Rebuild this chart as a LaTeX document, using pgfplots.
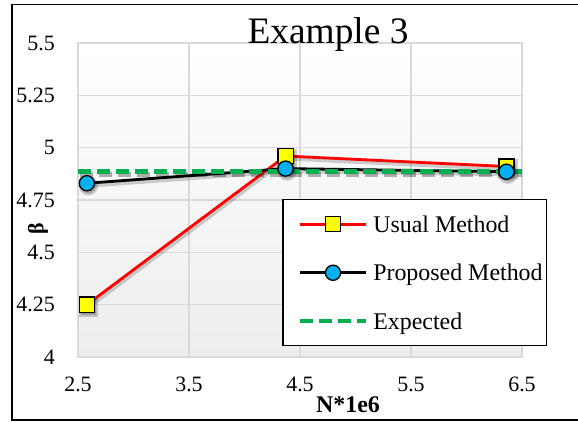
\documentclass[border=0pt]{standalone}
\usepackage{pgfplots}
\pgfplotsset{compat=1.18}
\usepackage{fontspec}
\setmainfont{Liberation Serif}
\definecolor{ured}{HTML}{FF0000}
\definecolor{myyellow}{HTML}{FFFF00}
\definecolor{mycyan}{HTML}{00B0F0}
\definecolor{mygreen}{HTML}{00B050}
\definecolor{gridc}{HTML}{D9D9D9}
\definecolor{bgbot}{HTML}{EDEDED}
\pgfplotsset{shadowplot/.style={forget plot, draw=black, opacity=0.18, line width=4bp, xshift=1.5bp, yshift=-2.5bp}}
\begin{document}
\begin{tikzpicture}[x=1bp,y=1bp]
\useasboundingbox (0,0) rectangle (578,421);
\fill[white] (0,0) rectangle (578,421);
\draw[line width=1.5bp] (12,0.8) rectangle (600,416.3);
\begin{axis}[
  at={(78bp,64bp)}, anchor=south west,
  scale only axis, width=444bp, height=314bp,
  xmin=2.5, xmax=6.5, ymin=4, ymax=5.5,
  xtick={2.5,3.5,4.5,5.5,6.5},
  xticklabels={\textrm{2.5},\textrm{3.5},\textrm{4.5},\textrm{5.5},\textrm{6.5}},
  ytick={4,4.25,4.5,4.75,5,5.25,5.5},
  yticklabels={\textrm{4},\textrm{4.25},\textrm{4.5},\textrm{4.75},\textrm{5},\textrm{5.25},\textrm{5.5}},
  /pgf/number format/assume math mode=true,
  axis background/.style={top color=white, bottom color=bgbot},
  axis line style={gridc, line width=1.5bp},
  grid=major, grid style={gridc, line width=1.2bp},
  tick style={draw=none}, major tick length=0pt,
  ticklabel style={font=\fontsize{22}{26}\selectfont\rmfamily},
  xticklabel style={anchor=north, inner sep=0pt, yshift=-20bp},
  yticklabel style={anchor=east, inner sep=0pt, xshift=-23bp},
  legend style={at={(axis description cs:0.4595,0.5032)}, anchor=north west,
    draw=black, line width=1.5bp, fill=white,
    font=\fontsize{24}{28}\selectfont,
    inner xsep=4bp, inner ysep=11.5bp, row sep=22.5bp, column sep=5bp,
    nodes={inner sep=0pt, text height=21bp, text depth=5bp},
    cells={anchor=west}},
  legend image code/.code={\path (0bp,0bp); \draw[mark repeat=2,mark phase=2] plot coordinates {(11bp,0bp) (44bp,0bp) (77bp,0bp)};},
]
% shadows
\addplot[shadowplot, mark=square*, mark size=7.6bp, mark options={draw=none, fill=black}]
  coordinates {(2.58,4.25) (4.37,4.96) (6.36,4.91)};
\addplot[shadowplot, mark=*, mark size=7.6bp, mark options={draw=none, fill=black}]
  coordinates {(2.58,4.83) (4.37,4.90) (6.36,4.885)};
% series
\addplot[color=ured, line width=2.8bp, mark=square*, mark size=7.6bp,
  mark options={fill=myyellow, draw=black, line width=1.3bp, solid}]
  coordinates {(2.58,4.25) (4.37,4.96) (6.36,4.91)};
\addlegendentry{Usual Method}
\addplot[color=black, line width=2.8bp, mark=*, mark size=7.6bp,
  mark options={fill=mycyan, draw=black, line width=1.3bp, solid}]
  coordinates {(2.58,4.83) (4.37,4.90) (6.36,4.885)};
\addlegendentry{Proposed Method}
\addplot[shadowplot, line width=5bp, dash pattern=on 13bp off 6bp, opacity=0.3]
  coordinates {(2.5,4.885) (6.5,4.885)};
\addplot[color=mygreen, line width=4.5bp, dash pattern=on 13bp off 6bp, mark=none]
  coordinates {(2.5,4.885) (6.5,4.885)};
\addlegendentry{Expected}
\end{axis}
\node[anchor=base, font=\fontsize{37.5}{40}\selectfont, inner sep=0pt] at (328,378) {Example 3};
\node[anchor=center, rotate=90, font=\fontsize{22}{26}\selectfont\bfseries, inner sep=0pt] at (38,192) {β};
\node[anchor=base, font=\fontsize{24}{28}\selectfont\bfseries, inner sep=0pt] at (348,9) {N*1e6};
\end{tikzpicture}
\end{document}
